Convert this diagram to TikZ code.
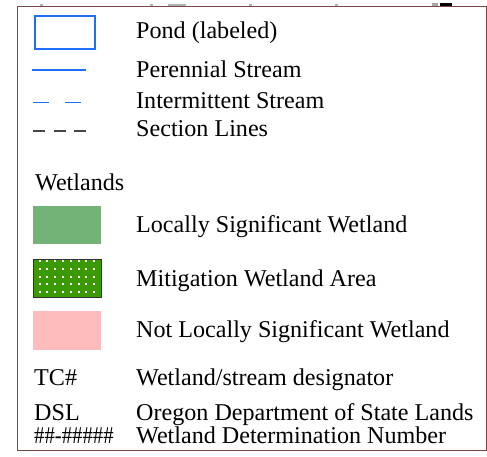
\documentclass[tikz,border=0pt]{standalone}
\usepackage{fontspec}
\usepackage{graphicx}
\setmainfont{Liberation Serif}
\definecolor{framec}{RGB}{122,72,72}
\definecolor{pondblue}{RGB}{30,110,250}
\definecolor{locgreen}{RGB}{116,179,119}
\definecolor{mitgreen}{RGB}{58,154,0}
\definecolor{notpink}{RGB}{255,188,188}
\definecolor{secgray}{RGB}{70,70,70}
\begin{document}
\begin{tikzpicture}[x=1pt,y=-1pt,
  lbl/.style={anchor=base west,inner sep=0pt,font=\fontsize{24.1}{28}\selectfont},
  swatch/.style={draw=none}]
\useasboundingbox (0,0) rectangle (487,456);
\fill[white] (0,0) rectangle (487,456);
% map fragments above frame
\fill[black] (440,2.5) rectangle (452,6);
\fill[gray!70] (432,3) rectangle (438,5.5);
\fill[gray!60] (168,3.5) rectangle (186,5.5);
\fill[gray!60] (40,3.5) rectangle (43,5.5);
\fill[gray!60] (150,3.5) rectangle (153,5.5);
\fill[gray!60] (249,3.5) rectangle (252,5.5);
\fill[gray!60] (335,3.5) rectangle (338,5.5);
% frame
\node[draw=framec,line width=1.4pt,inner sep=0pt,minimum width=468.5pt,minimum height=444pt,anchor=north west] (frame) at (17,5.5) {};
% pond
\node[draw=pondblue,line width=2pt,inner sep=0pt,minimum width=60pt,minimum height=33pt,anchor=north west] (pond) at (33.5,14.5) {};
\node[lbl] (tpond) at (136,38.5) {Pond (labeled)};
% perennial
\coordinate (p1) at (32,70);
\coordinate (p2) at (86,70);
\draw[pondblue,line width=2pt] (p1) -- (p2);
\node[lbl] (tper) at (136,77.8) {Perennial Stream};
% intermittent
\coordinate (i1) at (33,102);
\coordinate (i2) at (81,102);
\draw[pondblue,line width=1pt,dash pattern=on 16pt off 16pt] (i1) -- (i2);
\node[lbl] (tint) at (136,108.6) {Intermittent Stream};
% section lines
\coordinate (s1) at (33,131);
\coordinate (s2) at (86,131);
\draw[secgray,line width=1.5pt,dash pattern=on 12pt off 8.5pt] (s1) -- (s2);
\node[lbl] (tsec) at (136,136.6) {Section Lines};
% wetlands
\node[lbl] (twet) at (35,190.5) {Wetlands};
\node[fill=locgreen,inner sep=0pt,minimum width=68pt,minimum height=38pt,anchor=north west] (loc) at (32.5,206) {};
\node[lbl] (tloc) at (136,232.5) {Locally Significant Wetland};
\node[fill=mitgreen,draw=black!80,line width=1.3pt,inner sep=0pt,minimum width=68pt,minimum height=38.5pt,anchor=north west] (mit) at (33,258.5) {};
\foreach \r in {0,...,4}{
  \foreach \c in {0,...,7}{
    \fill[white] ({39.5+7.8*\c-1},{261.3+7.7*\r-1}) rectangle ++(2,2);
  }
}
\node[lbl] (tmit) at (136,286) {Mitigation Wetland Area};
\node[fill=notpink,inner sep=0pt,minimum width=68pt,minimum height=38.5pt,anchor=north west] (not) at (32.5,311) {};
\node[lbl] (tnot) at (136,337.5) {Not Locally Significant Wetland};
% designators
\node[lbl] (tc) at (34,385) {TC\#};
\node[lbl] (ttc) at (136,385) {Wetland/stream designator};
\node[lbl] (dsl) at (34,420) {DSL};
\node[lbl] (tdsl) at (136,420) {Oregon Department of State Lands};
\node[lbl] (hash) at (34,443) {\scalebox{0.86}[1]{\#\#-\#\#\#\#\#}};
\node[lbl] (thash) at (136,443) {Wetland Determination Number};
\end{tikzpicture}
\end{document}
